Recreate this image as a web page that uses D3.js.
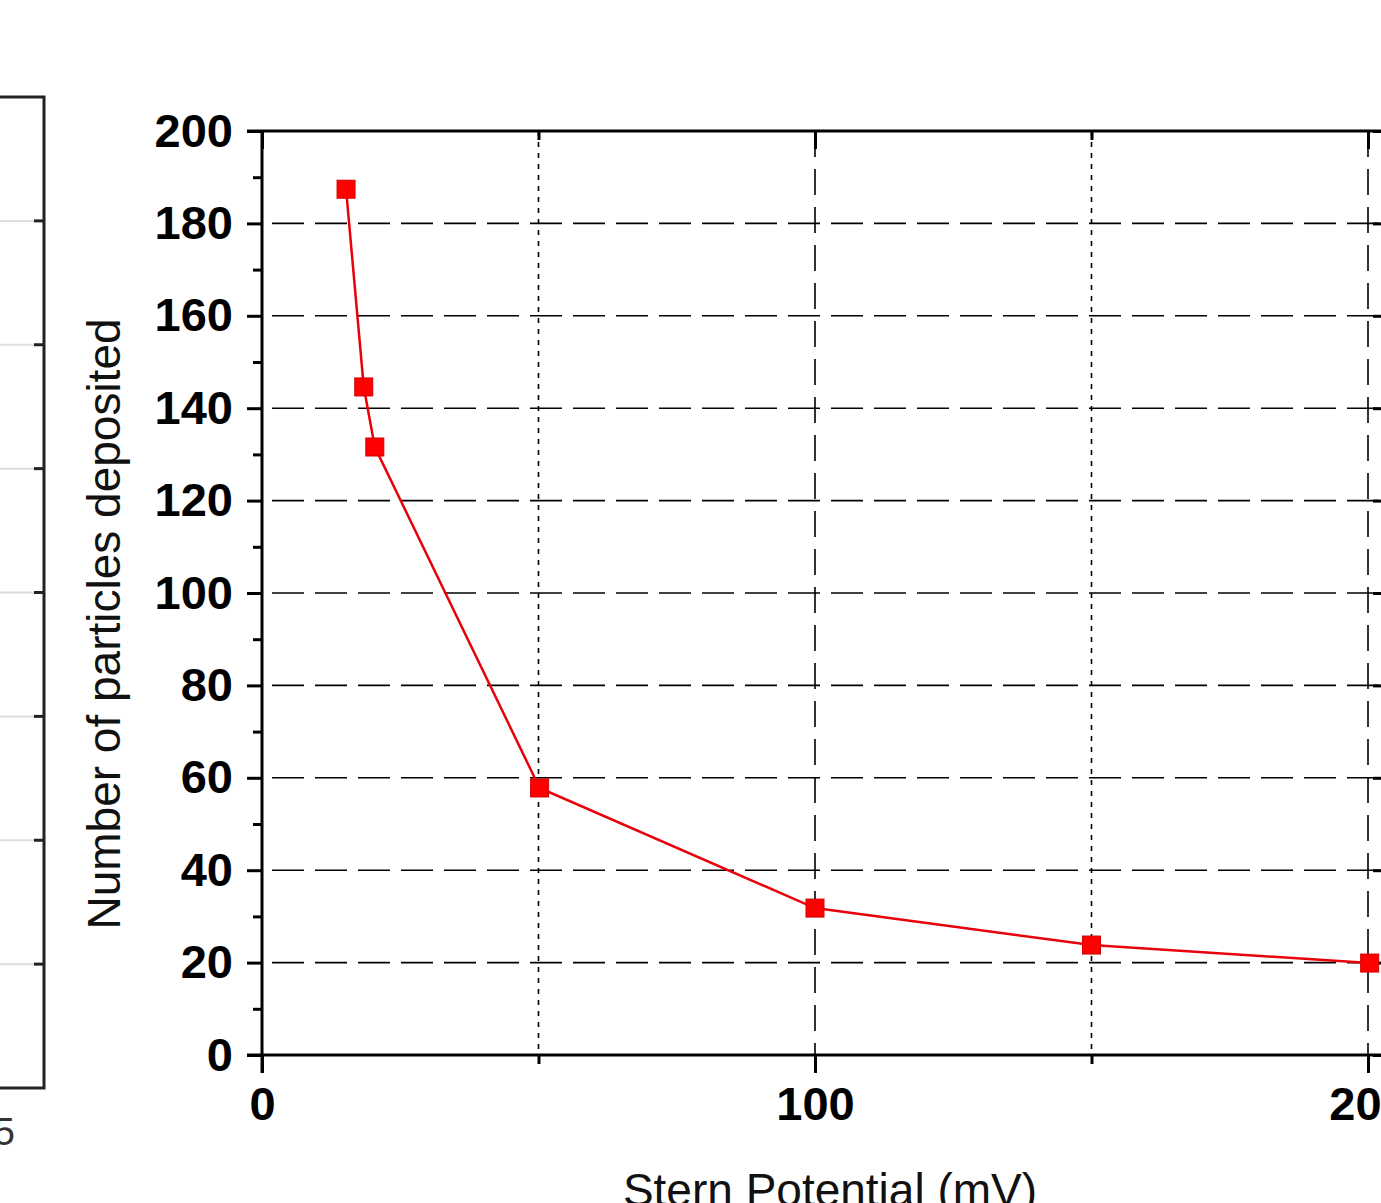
<html>

<head>
    <script src="https://d3js.org/d3.v7.min.js"></script>
    <style>
        body { margin: 0; background: white; }
        text { font-family: Arial, "Liberation Sans", sans-serif; }
    </style>
</head>

<body>
    <svg id="svg" width="1381" height="1203"></svg>
    <script>
        // values
        const potential = [15.2, 18.4, 20.4, 50.2, 100, 150, 200.3];
        const deposited = [187.4, 144.6, 131.6, 57.8, 31.8, 23.8, 19.9];
        const xMajor = [0, 100, 200];
        const xMinor = [50, 150];
        const yMajor = [0, 20, 40, 60, 80, 100, 120, 140, 160, 180, 200];
        const yMinor = [10, 30, 50, 70, 90, 110, 130, 150, 170, 190];
        const leftPanelTicks = [1, 2, 3, 4, 5, 6, 7];

        const svg = d3.select('#svg');
        const plotLeft = 262, plotRight = 1368, plotTop = 131, plotBottom = 1055, frameRight = 1384;

        const x = d3.scaleLinear().domain([0, 200]).range([plotLeft, plotRight]);
        const y = d3.scaleLinear().domain([0, 200]).range([plotBottom, plotTop]);

        // partial neighbouring panel on the far left
        const lp = d3.scaleLinear().domain([0, 8]).range([1088, 97]);
        const leftPanel = svg.append("g").attr("id", "leftPanel");
        leftPanel.selectAll("line.lgrid").data(leftPanelTicks)
            .join("line")
            .attr("class", "lgrid")
            .attr("x1", 0).attr("x2", 34)
            .attr("y1", d => lp(d)).attr("y2", d => lp(d))
            .style("stroke", "#ddd").style("stroke-width", 2);
        leftPanel.selectAll("line.ltick").data(leftPanelTicks)
            .join("line")
            .attr("class", "ltick")
            .attr("x1", 34).attr("x2", 44)
            .attr("y1", d => lp(d)).attr("y2", d => lp(d))
            .style("stroke", "#222").style("stroke-width", 3);
        leftPanel.append("path")
            .attr("d", `M-5,${lp(8)}H44V${lp(0)}H-5`)
            .style("fill", "none").style("stroke", "#222").style("stroke-width", 3);
        leftPanel.append("text")
            .attr("x", 15).attr("y", 1145)
            .style("text-anchor", "end")
            .style("font-size", "38px")
            .style("fill", "#333")
            .text("5");

        // grid
        const grid = svg.append("g").attr("id", "grid");
        grid.selectAll("line.hgrid").data(yMajor.slice(1, -1))
            .join("line")
            .attr("class", "hgrid")
            .attr("x1", plotLeft).attr("x2", frameRight)
            .attr("y1", d => y(d)).attr("y2", d => y(d))
            .style("stroke", "#000").style("stroke-width", 1.6)
            .style("stroke-dasharray", "32,11")
            .style("stroke-dashoffset", -10);
        grid.selectAll("line.vgrid").data(xMajor.slice(1))
            .join("line")
            .attr("class", "vgrid")
            .attr("x1", d => x(d)).attr("x2", d => x(d))
            .attr("y1", plotTop).attr("y2", plotBottom)
            .style("stroke", "#000").style("stroke-width", 1.6)
            .style("stroke-dasharray", "26,12");
        grid.selectAll("line.vminor").data(xMinor)
            .join("line")
            .attr("class", "vminor")
            .attr("x1", d => x(d)).attr("x2", d => x(d))
            .attr("y1", plotTop).attr("y2", plotBottom)
            .style("stroke", "#000").style("stroke-width", 1.6)
            .style("stroke-dasharray", "5,6");

        // axes
        const axes = svg.append("g").attr("id", "axes");
        const yAxis = d3.axisLeft(y).tickValues(yMajor).tickSize(15).tickPadding(14).tickFormat(d3.format("d"));
        const yAxisMinor = d3.axisLeft(y).tickValues(yMinor).tickSize(9).tickFormat("");
        const xAxis = d3.axisBottom(x).tickValues(xMajor).tickSize(18).tickPadding(14).tickFormat(d3.format("d"));
        const xAxisMinor = d3.axisBottom(x).tickValues(xMinor).tickSize(9).tickFormat("");
        const topAxis = d3.axisBottom(x).tickValues(xMajor).tickSize(18).tickFormat("");
        const topAxisMinor = d3.axisBottom(x).tickValues(xMinor).tickSize(9).tickFormat("");
        const rightAxis = d3.axisLeft(y).tickValues(yMajor).tickSize(11).tickFormat("");

        axes.append("g").attr("transform", `translate(${plotLeft},0)`).call(yAxis);
        axes.append("g").attr("transform", `translate(${plotLeft},0)`).call(yAxisMinor);
        axes.append("g").attr("transform", `translate(0,${plotBottom})`).call(xAxis);
        axes.append("g").attr("transform", `translate(0,${plotBottom})`).call(xAxisMinor);
        axes.append("g").attr("transform", `translate(0,${plotTop})`).call(topAxis);
        axes.append("g").attr("transform", `translate(0,${plotTop})`).call(topAxisMinor);
        axes.append("g").attr("transform", `translate(${frameRight},0)`).call(rightAxis);

        axes.selectAll(".domain").remove();
        axes.selectAll(".tick line").style("stroke", "#000").style("stroke-width", 3);
        axes.selectAll(".tick text")
            .style("font-family", 'Arial, "Liberation Sans", sans-serif')
            .style("font-size", "47px")
            .style("font-weight", "bold")
            .style("fill", "#000");

        // frame
        axes.append("path")
            .attr("d", `M${plotLeft - 15},${plotTop}H${frameRight}V${plotBottom}H${plotLeft - 15}M${plotLeft},${plotTop}V${plotBottom + 18}`)
            .style("fill", "none").style("stroke", "#000").style("stroke-width", 3);

        // data
        const line = d3.line().x((d, i) => x(potential[i])).y(d => y(d));
        svg.append("path").datum(deposited)
            .attr("d", line)
            .style("fill", "none")
            .style("stroke", "#e8000b")
            .style("stroke-width", 2.5);
        svg.selectAll("rect.pt").data(deposited)
            .join("rect")
            .attr("class", "pt")
            .attr("x", (d, i) => x(potential[i]) - 9)
            .attr("y", d => y(d) - 9)
            .attr("width", 18)
            .attr("height", 18)
            .style("fill", "#ff0000")
            .style("stroke", "#d40000")
            .style("stroke-width", 1);

        // axis titles
        svg.append("text")
            .attr("transform", `translate(120,624) rotate(-90)`)
            .style("text-anchor", "middle")
            .style("font-size", "46px")
            .style("fill", "#111")
            .text("Number of particles deposited");
        svg.append("text")
            .attr("x", 830).attr("y", 1206)
            .style("text-anchor", "middle")
            .style("font-size", "46px")
            .style("fill", "#111")
            .text("Stern Potential (mV)");
    </script>
</body>

</html>
